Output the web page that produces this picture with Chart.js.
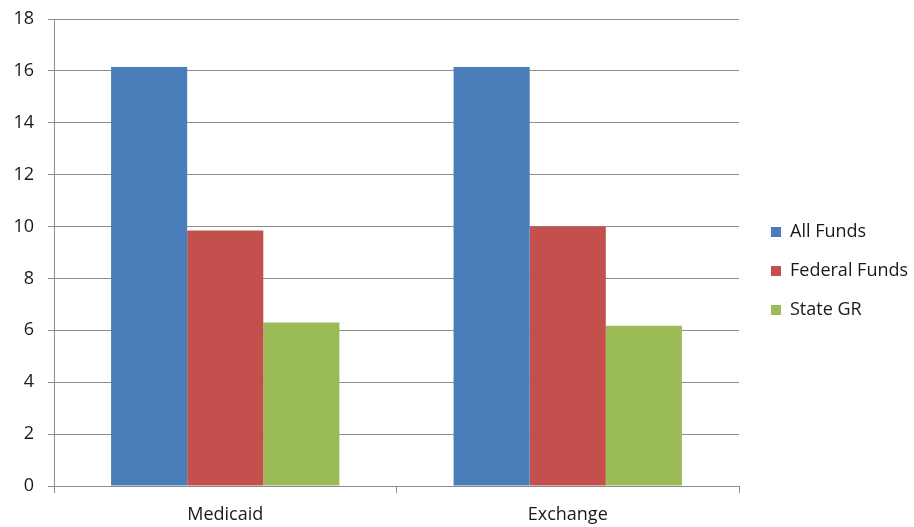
<!DOCTYPE html>
<html>
<head>
<meta charset="utf-8">
<script src="https://cdn.jsdelivr.net/npm/chart.js@4.4.1/dist/chart.umd.min.js"></script>
<style>
    html, body { margin: 0; padding: 0; background: #fff; }
</style>
</head>
<body>
<canvas id="chart" width="914" height="527"></canvas>
<script>
const categories = ['Medicaid', 'Exchange'];
const seriesNames = ['All Funds', 'Federal Funds', 'State GR'];
const allFunds = [16.15, 16.15];
const federalFunds = [9.85, 10.0];
const stateGR = [6.3, 6.18];
const yMin = 0, yMax = 18, yStep = 2;

const colors = ['#4a7ebb', '#c4504d', '#9bbb59'];
const gridColor = '#8c8c8c';
const textColor = '#1a1a1a';
const font = { family: 'Open Sans', size: 18 };

// legend: fixed width, items nudged right a bit like the original
const legendFix = {
    id: 'legendFix',
    beforeInit(chart) {
        const fit = chart.legend.fit;
        chart.legend.fit = function () {
            fit.call(this);
            this.width = 175;
        };
    },
    afterLayout(chart) {
        const lg = chart.legend;
        const w = lg.right - lg.left;
        lg.left = chart.chartArea.right + 11;
        lg.right = lg.left + w;
        lg.top -= 2;
        lg.bottom -= 2;
    }
};

new Chart(document.getElementById('chart'), {
    type: 'bar',
    data: {
        labels: categories,
        datasets: [
            { label: seriesNames[0], data: allFunds, backgroundColor: colors[0] },
            { label: seriesNames[1], data: federalFunds, backgroundColor: colors[1] },
            { label: seriesNames[2], data: stateGR, backgroundColor: colors[2] }
        ]
    },
    options: {
        responsive: false,
        animation: false,
        layout: { padding: { top: 19, right: 0, bottom: 0, left: 0 } },
        datasets: {
            bar: { categoryPercentage: 0.6667, barPercentage: 1, borderWidth: 0 }
        },
        scales: {
            x: {
                offset: true,
                grid: { offset: true, drawOnChartArea: false, drawTicks: true, tickLength: 7, color: gridColor, lineWidth: 1 },
                border: { color: gridColor, width: 1 },
                ticks: { font: font, color: textColor, padding: 11 },
                afterFit(s) { s.height = 41; }
            },
            y: {
                min: yMin,
                max: yMax,
                ticks: { stepSize: yStep, font: font, color: textColor, padding: 14 },
                grid: { color: gridColor, lineWidth: 1, tickLength: 6 },
                border: { color: gridColor, width: 1 },
                afterFit(s) {
                    s.width = 54;
                    s.paddingTop = 0;
                    s.paddingBottom = 0;
                }
            }
        },
        plugins: {
            legend: {
                position: 'right',
                labels: { boxWidth: 10, boxHeight: 10, padding: 21, font: font, color: textColor }
            },
            tooltip: { enabled: false }
        }
    },
    plugins: [legendFix]
});
</script>
</body>
</html>
